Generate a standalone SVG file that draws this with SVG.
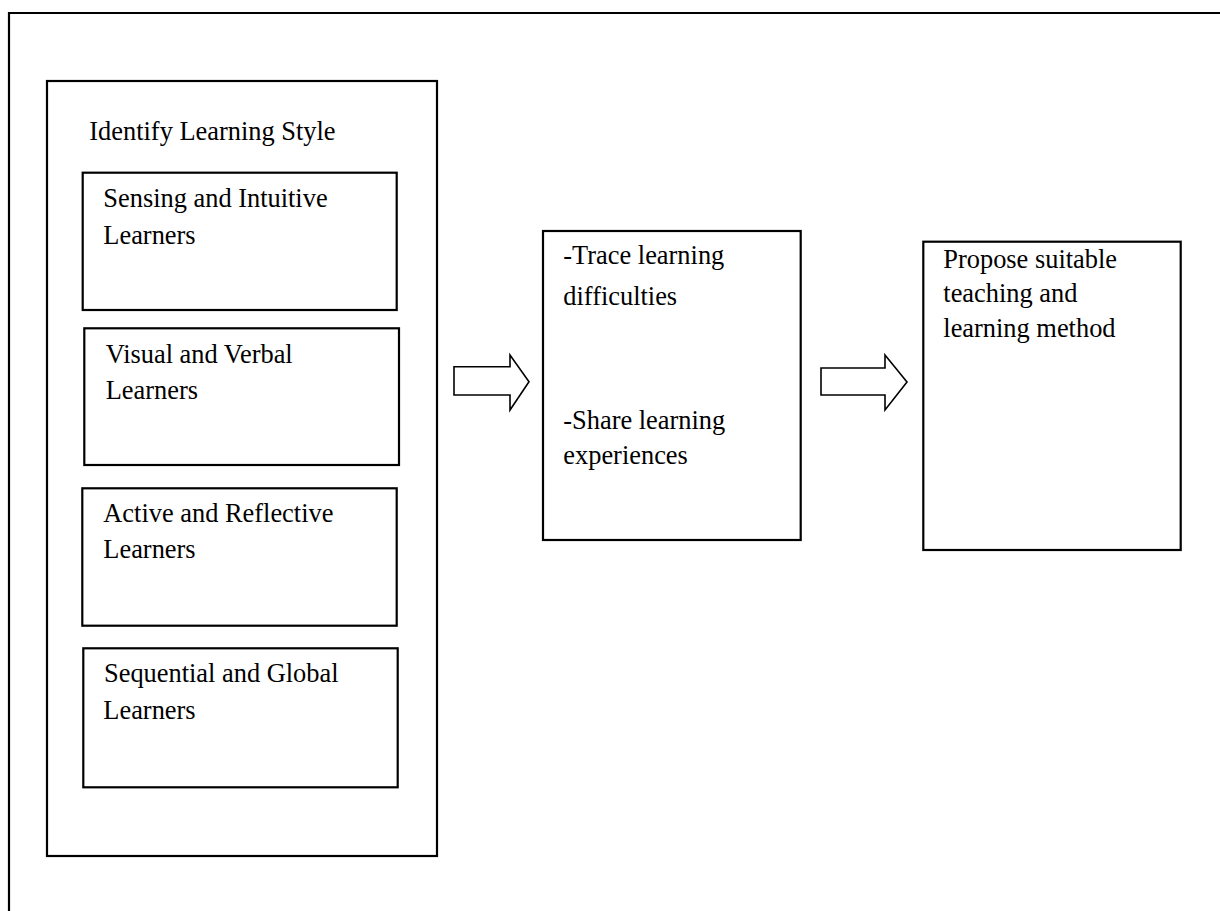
<svg xmlns="http://www.w3.org/2000/svg" width="1220" height="911" viewBox="0 0 1220 911">
<style>
.box{fill:#fff;stroke:#000;stroke-width:2.2}
.frame{fill:none;stroke:#000;stroke-width:2.2}
.arrow{fill:#fff;stroke:#000;stroke-width:1.6;stroke-linejoin:miter}
text{font-family:"Liberation Serif","Times New Roman",serif;font-size:26.4px;fill:#000}
</style>
<rect width="1220" height="911" fill="#fff"/>
<path class="frame" d="M9,911 V13 H1220"/>
<g id="identify">
<rect class="box" x="47" y="81" width="390" height="775"/>
<text x="89.3" y="140">Identify Learning Style</text>
</g>
<g id="sensing">
<rect class="box" x="82.7" y="172.7" width="314" height="137.3"/>
<text x="103.3" y="207.3">Sensing and Intuitive</text>
<text x="103.3" y="243.6">Learners</text>
</g>
<g id="visual">
<rect class="box" x="84.3" y="328.3" width="314.7" height="136.7"/>
<text x="105.7" y="362.7">Visual and Verbal</text>
<text x="105.7" y="399">Learners</text>
</g>
<g id="active">
<rect class="box" x="82.3" y="488.3" width="314.4" height="137.4"/>
<text x="103.3" y="521.7">Active and Reflective</text>
<text x="103.3" y="558.3">Learners</text>
</g>
<g id="sequential">
<rect class="box" x="83.3" y="648.3" width="314.4" height="139"/>
<text x="104" y="682.3">Sequential and Global</text>
<text x="103.3" y="719.3">Learners</text>
</g>
<g id="middle">
<rect class="box" x="543" y="231" width="257.7" height="309"/>
<text x="563.3" y="263.5">-Trace learning</text>
<text x="563.3" y="304.5">difficulties</text>
<text x="563.3" y="429.3">-Share learning</text>
<text x="563.3" y="464">experiences</text>
</g>
<g id="propose">
<rect class="box" x="923.3" y="241.7" width="257.4" height="308.3"/>
<text x="943.3" y="267.7">Propose suitable</text>
<text x="943.3" y="301.5">teaching and</text>
<text x="943.3" y="337.3">learning method</text>
</g>
<g id="connectors">
<polygon class="arrow" points="454,366.7 510,366.7 510,355 529,381.7 510,410 510,395 454,395"/>
<polygon class="arrow" points="821,368 885,368 885,355 907,382 885,410 885,395 821,395"/>
</g>
</svg>
